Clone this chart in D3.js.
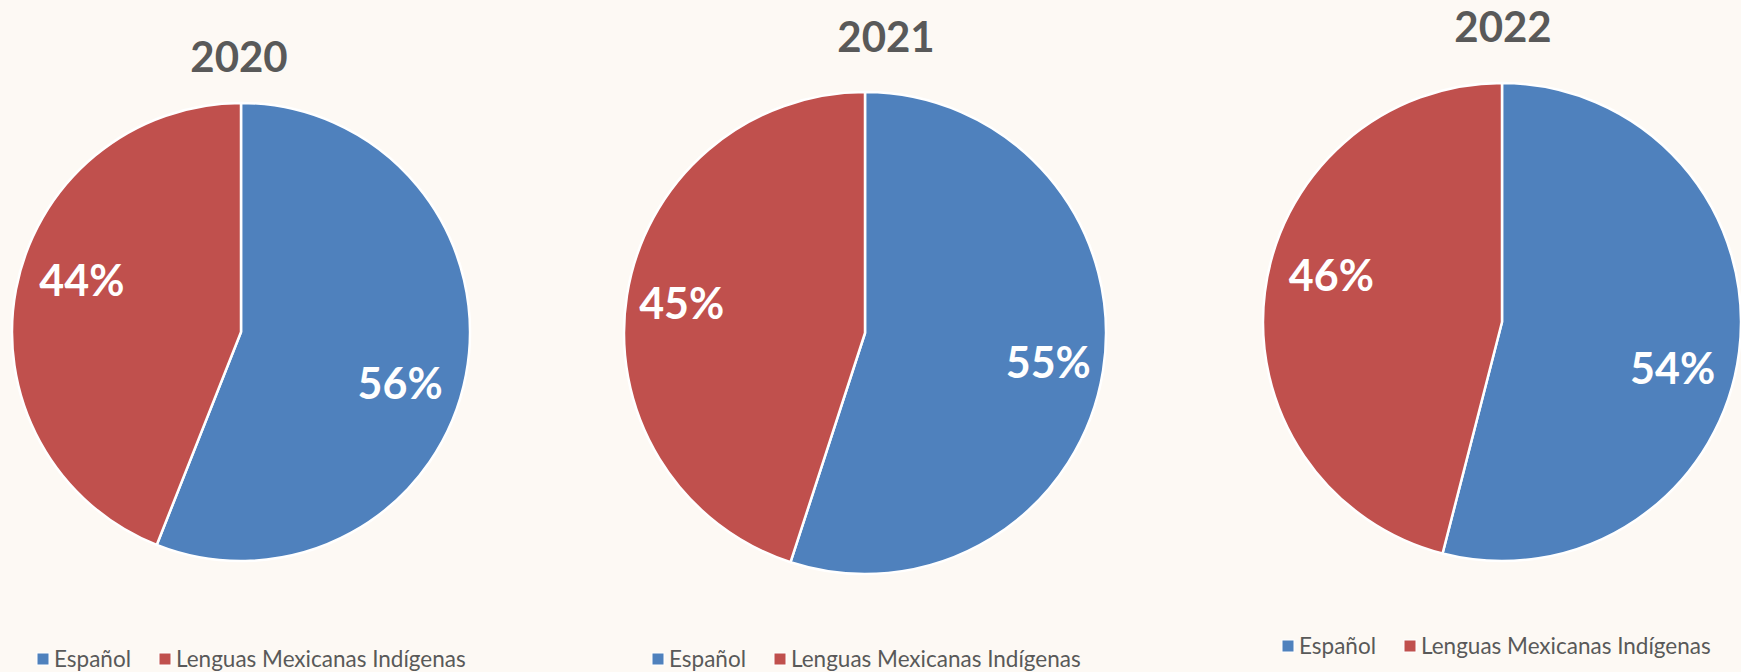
<!DOCTYPE html>
<html>
<head>
<meta charset="utf-8">
<script src="https://cdn.jsdelivr.net/npm/d3@7/dist/d3.min.js"></script>
<style>
  html, body { margin: 0; padding: 0; background: #fdf9f4; }
  svg { display: block; }
  text { font-family: Lato, "Open Sans", sans-serif; }
</style>
</head>
<body>
<svg id="chart"></svg>
<script>
// data
var years = ["2020", "2021", "2022"];
var categories = ["Español", "Lenguas Mexicanas Indígenas"];
var espanol = [56, 55, 54];
var indigenas = [44, 45, 46];
var colors = ["#4f81bd", "#c0504d"];

// set the dimensions
var width = 1741,
    height = 672;

// where each pie sits (centre, radius, title, legend, label angle shift / radius)
var layout = [
  {cx: 241,  cy: 332, r: 229, tx: 239,  ty: 72, lx: 37,   ly: 667, la: 7, lr: 0.73},
  {cx: 865,  cy: 333, r: 241, tx: 886,  ty: 52, lx: 652,  ly: 667, la: 0, lr: 0.77},
  {cx: 1502, cy: 322, r: 239, tx: 1503, ty: 42, lx: 1282, ly: 654, la: 8, lr: 0.74}
];

var svg = d3.select("#chart")
    .attr("width", width)
    .attr("height", height);

var pie = d3.pie().sort(null).value(function(d) { return d; });
var fmt = d3.format(".0%");

years.forEach(function(year, i){
  var lay = layout[i];
  var values = [espanol[i], indigenas[i]];
  var total = d3.sum(values);
  var shift = lay.la * Math.PI / 180;

  var arc = d3.arc().innerRadius(0).outerRadius(lay.r);
  var labelArc = d3.arc().innerRadius(lay.r * lay.lr).outerRadius(lay.r * lay.lr);

  var g = svg.append("g")
      .attr("transform", "translate(" + lay.cx + "," + lay.cy + ")");

  // add the slices
  g.selectAll("path")
      .data(pie(values))
      .enter().append("path")
      .attr("d", arc)
      .attr("fill", function(d, j) { return colors[j]; })
      .attr("stroke", "#ffffff")
      .attr("stroke-width", 2.5)
      .attr("stroke-linejoin", "round");

  // add the percent labels
  g.selectAll("text.pct")
      .data(pie(values))
      .enter().append("text")
      .attr("class", "pct")
      .attr("transform", function(d) {
        var c = labelArc.centroid({startAngle: d.startAngle + shift, endAngle: d.endAngle + shift});
        return "translate(" + c + ")";
      })
      .attr("text-anchor", "middle")
      .attr("dy", "0.36em")
      .attr("fill", "#ffffff")
      .attr("font-weight", "bold")
      .attr("font-size", 43)
      .text(function(d) { return fmt(d.value / total); });

  // add the title
  svg.append("text")
      .attr("x", lay.tx)
      .attr("y", lay.ty)
      .attr("text-anchor", "middle")
      .attr("fill", "#595959")
      .attr("font-weight", "bold")
      .attr("font-size", 42)
      .text(year);

  // add the legend
  var leg = svg.append("g")
      .attr("transform", "translate(" + lay.lx + "," + lay.ly + ")");
  var offsets = [0, 122];
  categories.forEach(function(c, j){
    leg.append("rect")
        .attr("x", offsets[j])
        .attr("y", -14)
        .attr("width", 12)
        .attr("height", 12)
        .attr("fill", colors[j])
        .attr("stroke", "#ffffff")
        .attr("stroke-width", 1);
    leg.append("text")
        .attr("x", offsets[j] + 17)
        .attr("y", 0)
        .attr("fill", "#595959")
        .attr("font-size", 22.5)
        .text(c);
  });
});
</script>
</body>
</html>
